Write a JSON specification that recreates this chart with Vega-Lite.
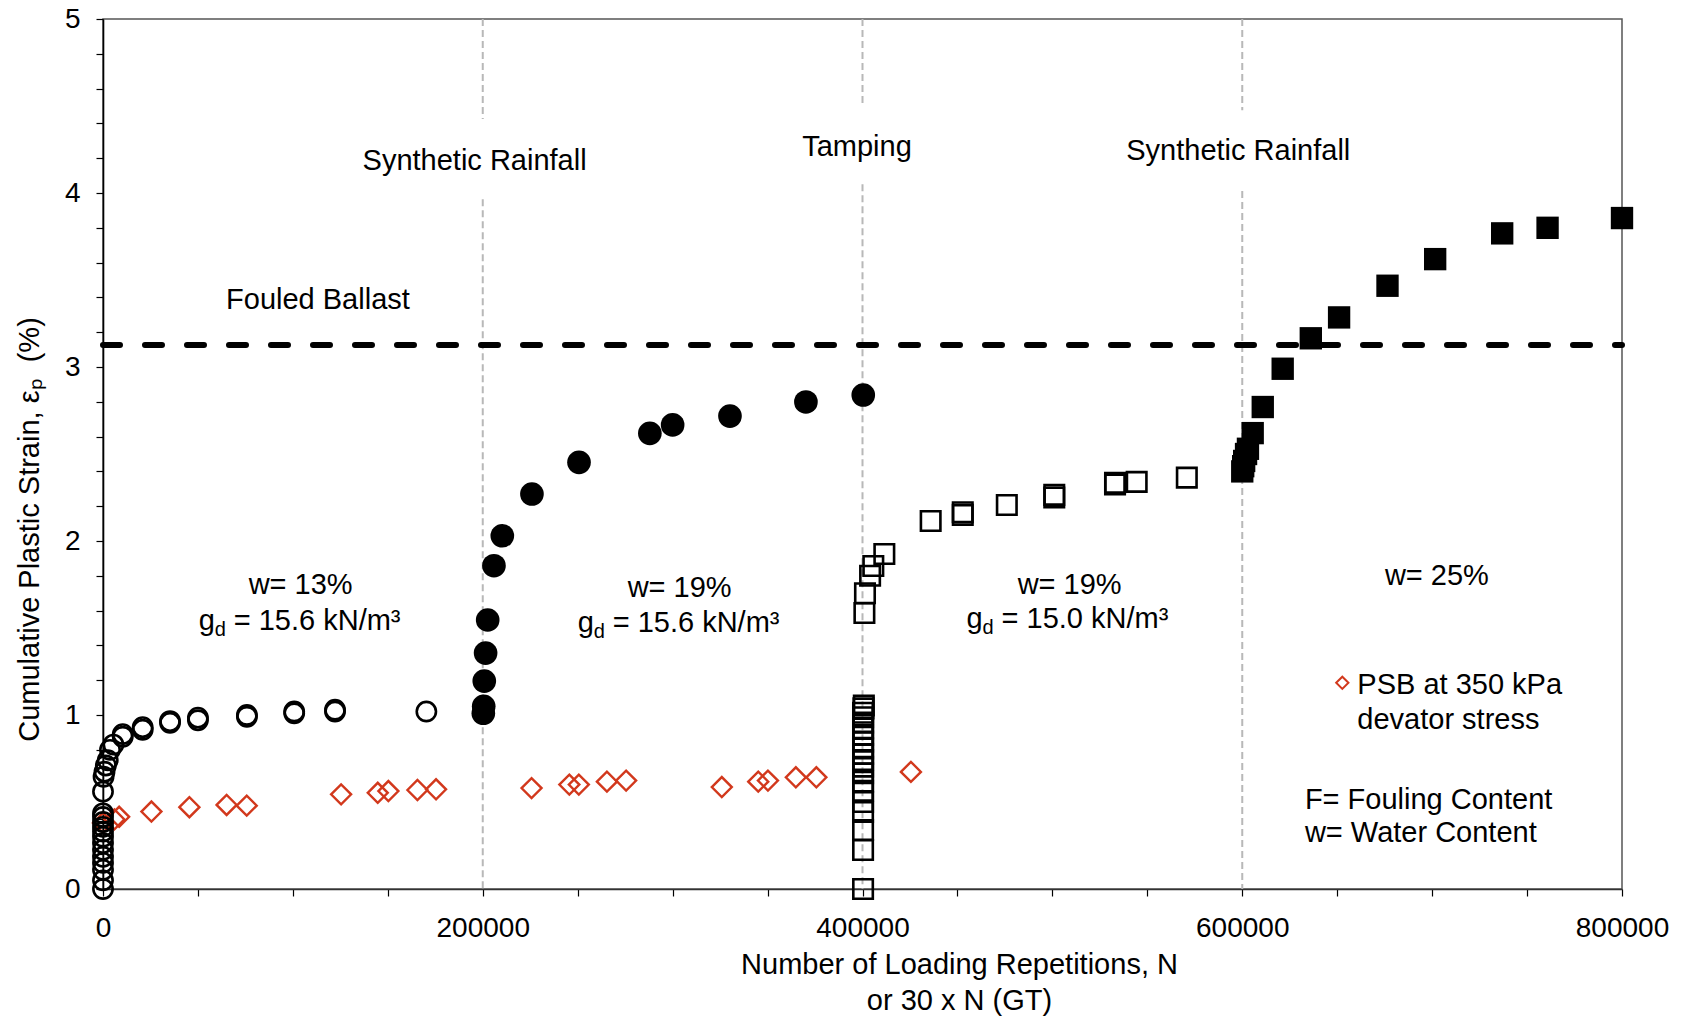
{
  "$schema": "https://vega.github.io/schema/vega-lite/v6.json",
  "width": 1519,
  "height": 870,
  "autosize": {"type": "none"},
  "padding": {"left": 103, "top": 19, "right": 62, "bottom": 127},
  "background": "white",
  "config": {
    "font": "Liberation Sans",
    "view": {"stroke": "#555", "strokeWidth": 1.5},
    "text": {"font": "Liberation Sans", "fontSize": 29, "color": "black"}
  },
  "encoding": {
    "x": {
      "field": "x", "type": "quantitative",
      "scale": {"domain": [0, 800000], "nice": false, "zero": false},
      "axis": {
        "title": ["Number of Loading Repetitions, N", "or 30 x N (GT)"],
        "values": [0, 50000, 100000, 150000, 200000, 250000, 300000, 350000, 400000, 450000, 500000, 550000, 600000, 650000, 700000, 750000, 800000],
        "tickCount": 40,
        "labelExpr": "datum.value % 200000 === 0 ? format(datum.value, 'd') : ''",
        "grid": false, "tickSize": 7, "tickColor": "black", "tickWidth": 1.2,
        "domainColor": "#333", "domainWidth": 1.6,
        "labelFont": "Liberation Sans", "labelFontSize": 28, "labelColor": "black", "labelPadding": 18,
        "labelFlush": false, "labelOverlap": false,
        "titleFont": "Liberation Sans", "titleFontSize": 29, "titleFontWeight": "normal", "titleColor": "black",
        "titleX": 856, "titleY": 61, "titleAlign": "center", "titleBaseline": "top", "titleLineHeight": 36
      }
    },
    "y": {
      "field": "y", "type": "quantitative",
      "scale": {"domain": [0, 5], "nice": false, "zero": false},
      "axis": {
        "title": "Cumulative Plastic Strain, εₚ \u00a0(%)",
        "values": [0, 0.2, 0.4, 0.6, 0.8, 1, 1.2, 1.4, 1.6, 1.8, 2, 2.2, 2.4, 2.6, 2.8, 3, 3.2, 3.4, 3.6, 3.8, 4, 4.2, 4.4, 4.6, 4.8, 5],
        "tickCount": 60,
        "labelExpr": "abs(datum.value - round(datum.value)) < 0.001 ? format(datum.value, 'd') : ''",
        "grid": false, "tickSize": 7, "tickColor": "black", "tickWidth": 1.2,
        "domainColor": "black", "domainWidth": 1.6,
        "labelFont": "Liberation Sans", "labelFontSize": 28, "labelColor": "black", "labelPadding": 16,
        "labelFlush": false, "labelOverlap": false,
        "titleFont": "Liberation Sans", "titleFontSize": 29, "titleFontWeight": "normal", "titleColor": "black",
        "titleX": -74, "titleY": 510, "titleAngle": -90, "titleAlign": "center", "titleBaseline": "middle"
      }
    }
  },
  "layer": [
    {
      "data": {"values": [
        {"x": 200000, "y": 5, "y2": 4.425}, {"x": 200000, "y": 3.964, "y2": 0},
        {"x": 400000, "y": 5, "y2": 4.506}, {"x": 400000, "y": 4.05, "y2": 0},
        {"x": 600000, "y": 5, "y2": 4.475}, {"x": 600000, "y": 4.012, "y2": 0}
      ]},
      "mark": {"type": "rule", "color": "#b8b8b8", "strokeWidth": 2, "strokeDash": [7, 4]},
      "encoding": {"y2": {"field": "y2"}}
    },
    {
      "data": {"values": [{"x": 0, "x2": 800000, "y": 3.126}]},
      "mark": {"type": "rule", "color": "black", "strokeWidth": 6, "strokeDash": [17, 25], "strokeCap": "round"},
      "encoding": {"x2": {"field": "x2"}}
    },
    {
      "data": {"values": [
        {"x": 0, "y": 0.38}, {"x": 6000, "y": 0.4}, {"x": 8500, "y": 0.415}, {"x": 25500, "y": 0.445},
        {"x": 45500, "y": 0.47}, {"x": 65100, "y": 0.483}, {"x": 75700, "y": 0.479}, {"x": 125400, "y": 0.544},
        {"x": 144700, "y": 0.553}, {"x": 150300, "y": 0.563}, {"x": 165600, "y": 0.569}, {"x": 175400, "y": 0.573},
        {"x": 225700, "y": 0.58}, {"x": 245600, "y": 0.6}, {"x": 250600, "y": 0.6}, {"x": 265400, "y": 0.617},
        {"x": 275500, "y": 0.623}, {"x": 325900, "y": 0.586}, {"x": 345100, "y": 0.617}, {"x": 350200, "y": 0.623},
        {"x": 364900, "y": 0.642}, {"x": 375700, "y": 0.642}, {"x": 425500, "y": 0.673}
      ]},
      "mark": {"type": "point", "shape": "diamond", "filled": false, "color": "#d2381c", "strokeWidth": 2.4, "size": 400, "opacity": 1}
    },
    {
      "data": {"values": [
        {"x": 0, "y": 0}, {"x": 0, "y": 0.05}, {"x": 0, "y": 0.11}, {"x": 0, "y": 0.15}, {"x": 0, "y": 0.185},
        {"x": 0, "y": 0.225}, {"x": 0, "y": 0.264}, {"x": 0, "y": 0.3}, {"x": 0, "y": 0.33}, {"x": 0, "y": 0.357},
        {"x": 0, "y": 0.385}, {"x": 0, "y": 0.414}, {"x": 0, "y": 0.435}, {"x": 0, "y": 0.56}, {"x": 300, "y": 0.645},
        {"x": 800, "y": 0.674}, {"x": 1500, "y": 0.71}, {"x": 2500, "y": 0.74}, {"x": 3700, "y": 0.8}, {"x": 5500, "y": 0.83},
        {"x": 10400, "y": 0.875}, {"x": 10400, "y": 0.89}, {"x": 20900, "y": 0.915}, {"x": 20900, "y": 0.93},
        {"x": 35300, "y": 0.955}, {"x": 35300, "y": 0.965}, {"x": 50000, "y": 0.97}, {"x": 50000, "y": 0.985},
        {"x": 75800, "y": 0.99}, {"x": 75800, "y": 1.0}, {"x": 100700, "y": 1.01}, {"x": 100700, "y": 1.02},
        {"x": 122200, "y": 1.02}, {"x": 122200, "y": 1.03}, {"x": 170300, "y": 1.02}
      ]},
      "mark": {"type": "point", "shape": "circle", "filled": false, "color": "black", "strokeWidth": 2.6, "size": 370, "opacity": 1}
    },
    {
      "data": {"values": [
        {"x": 200300, "y": 1.01}, {"x": 200500, "y": 1.05}, {"x": 200800, "y": 1.195}, {"x": 201500, "y": 1.356},
        {"x": 202600, "y": 1.546}, {"x": 205900, "y": 1.858}, {"x": 210300, "y": 2.03}, {"x": 225900, "y": 2.27},
        {"x": 250700, "y": 2.452}, {"x": 288000, "y": 2.619}, {"x": 300000, "y": 2.667}, {"x": 330200, "y": 2.718},
        {"x": 370200, "y": 2.799}, {"x": 400400, "y": 2.839}
      ]},
      "mark": {"type": "point", "shape": "circle", "filled": true, "color": "black", "size": 560, "opacity": 1}
    },
    {
      "data": {"values": [
        {"x": 400300, "y": 0}, {"x": 400300, "y": 0.224}, {"x": 400300, "y": 0.339}, {"x": 400300, "y": 0.443},
        {"x": 400300, "y": 0.5}, {"x": 400300, "y": 0.565}, {"x": 400300, "y": 0.617}, {"x": 400300, "y": 0.665},
        {"x": 400300, "y": 0.703}, {"x": 400300, "y": 0.741}, {"x": 400300, "y": 0.776}, {"x": 400300, "y": 0.808},
        {"x": 400300, "y": 0.847}, {"x": 400300, "y": 0.885}, {"x": 400300, "y": 0.923}, {"x": 400300, "y": 0.956},
        {"x": 400300, "y": 0.987}, {"x": 400300, "y": 1.013}, {"x": 400500, "y": 1.038}, {"x": 400700, "y": 1.055},
        {"x": 401000, "y": 1.586}, {"x": 401300, "y": 1.7}, {"x": 404000, "y": 1.8}, {"x": 405700, "y": 1.856},
        {"x": 411500, "y": 1.925}, {"x": 435900, "y": 2.115}, {"x": 452800, "y": 2.15}, {"x": 452800, "y": 2.165},
        {"x": 476000, "y": 2.207}, {"x": 501000, "y": 2.25}, {"x": 501000, "y": 2.265}, {"x": 533000, "y": 2.325},
        {"x": 533000, "y": 2.335}, {"x": 544400, "y": 2.34}, {"x": 570800, "y": 2.364}
      ]},
      "mark": {"type": "point", "shape": "square", "filled": false, "color": "black", "strokeWidth": 2.6, "size": 380, "opacity": 1}
    },
    {
      "data": {"values": [
        {"x": 600000, "y": 2.4}, {"x": 600500, "y": 2.43}, {"x": 601000, "y": 2.46}, {"x": 602000, "y": 2.5},
        {"x": 603000, "y": 2.53}, {"x": 605500, "y": 2.62}, {"x": 610800, "y": 2.77}, {"x": 621300, "y": 2.99},
        {"x": 636100, "y": 3.165}, {"x": 651000, "y": 3.285}, {"x": 676500, "y": 3.467}, {"x": 701600, "y": 3.62},
        {"x": 736900, "y": 3.768}, {"x": 760800, "y": 3.8}, {"x": 800000, "y": 3.856}
      ]},
      "mark": {"type": "point", "shape": "square", "filled": true, "color": "black", "size": 500, "opacity": 1}
    },
    {
      "data": {"values": [{"x": 652700, "y": 1.185}]},
      "mark": {"type": "point", "shape": "diamond", "filled": false, "color": "#d2381c", "strokeWidth": 2, "size": 150, "opacity": 1}
    },
    {
      "data": {"values": [
        {"x": 113200, "y": 3.383, "label": "Fouled Ballast"},
        {"x": 195700, "y": 4.185, "label": "Synthetic Rainfall"},
        {"x": 397100, "y": 4.265, "label": "Tamping"},
        {"x": 597900, "y": 4.241, "label": "Synthetic Rainfall"},
        {"x": 104100, "y": 1.747, "label": "w= 13%"},
        {"x": 303700, "y": 1.728, "label": "w= 19%"},
        {"x": 509100, "y": 1.747, "label": "w= 19%"},
        {"x": 702500, "y": 1.796, "label": "w= 25%"}
      ]},
      "mark": {"type": "text", "align": "center", "baseline": "middle", "fontSize": 29, "color": "black"},
      "encoding": {"text": {"field": "label"}}
    },
    {
      "data": {"values": [
        {"x": 660600, "y": 1.173, "label": "PSB at 350 kPa"},
        {"x": 660600, "y": 0.969, "label": "devator stress"},
        {"x": 633000, "y": 0.512, "label": "F= Fouling Content"},
        {"x": 633000, "y": 0.321, "label": "w= Water Content"}
      ]},
      "mark": {"type": "text", "align": "left", "baseline": "middle", "fontSize": 29, "color": "black"},
      "encoding": {"text": {"field": "label"}}
    },
    {
      "data": {"name": "gd", "values": [
        {"x": 50400, "y": 1.543, "rest": "= 15.6 kN/m³"},
        {"x": 250000, "y": 1.531, "rest": "= 15.6 kN/m³"},
        {"x": 454800, "y": 1.549, "rest": "= 15.0 kN/m³"}
      ]},
      "layer": [
        {"mark": {"type": "text", "text": "g", "align": "left", "baseline": "middle", "fontSize": 29, "color": "black"}},
        {"mark": {"type": "text", "text": "d", "align": "left", "baseline": "middle", "fontSize": 20, "dx": 16, "dy": 9, "color": "black"}},
        {"mark": {"type": "text", "align": "left", "baseline": "middle", "fontSize": 29, "dx": 35, "color": "black"},
         "encoding": {"text": {"field": "rest"}}}
      ]
    }
  ]
}
